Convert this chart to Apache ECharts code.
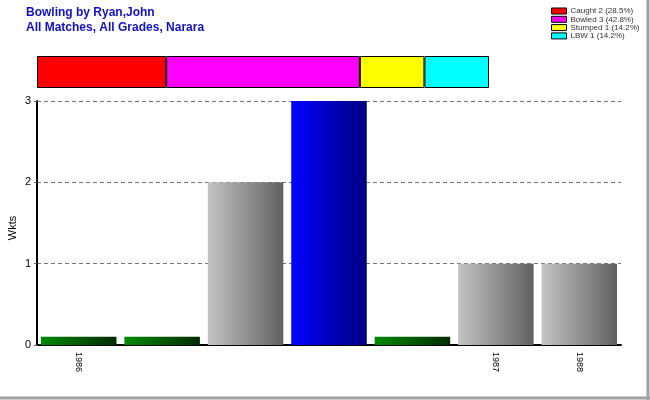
<!DOCTYPE html>
<html><head><meta charset="utf-8">
<script src="https://cdn.jsdelivr.net/npm/echarts@6/dist/echarts.min.js"></script>
<style>html,body{margin:0;padding:0;background:#fff}#c{width:650px;height:400px}</style>
</head><body><div id="c"></div>
<script>
var categories = ['1986', '', '', '', '', '1987', '1988'];
var wickets = [0.1, 0.1, 2, 3, 0.1, 1, 1];
var barKind = ['green', 'green', 'grey', 'blue', 'green', 'grey', 'grey'];
var dismissalNames = ['Caught 2 (28.5%)', 'Bowled 3 (42.8%)', 'Stumped 1 (14.2%)', 'LBW 1 (14.2%)'];
var dismissalCounts = [2, 3, 1, 1];
var dismissalColors = ['#ff0000', '#ff00ff', '#ffff00', '#00ffff'];
var yTicks = [0, 1, 2, 3];
var yAxisTitle = 'Wkts';

var grads = {
  green: ['#008a00', '#002a00'],
  grey: ['#c4c4c4', '#606060'],
  blue: ['#0000ff', '#000080']
};
function grad(k) {
  var g = grads[k];
  return new echarts.graphic.LinearGradient(0, 0, 1, 0, [{offset: 0, color: g[0]}, {offset: 1, color: g[1]}]);
}

var chart = echarts.init(document.getElementById('c'));
var series = [{
  type: 'bar', xAxisIndex: 0, yAxisIndex: 0,
  barCategoryGap: '9.5%',
  data: wickets.map(function (v, i) { return {value: v, itemStyle: {color: grad(barKind[i])}}; }),
  silent: true
}];
dismissalNames.forEach(function (n, i) {
  series.push({
    type: 'bar', name: n, stack: 'd', xAxisIndex: 1, yAxisIndex: 1,
    barWidth: '100%',
    data: [dismissalCounts[i]],
    itemStyle: {color: dismissalColors[i], borderColor: '#000', borderWidth: 1},
    silent: true
  });
});

chart.setOption({
  animation: false,
  backgroundColor: '#fff',
  title: {
    text: 'Bowling by Ryan,John\nAll Matches, All Grades, Narara',
    left: 26, top: 5, padding: 0,
    textStyle: {color: '#1010c8', fontSize: 12, fontWeight: 'bold', fontFamily: 'Liberation Sans, Arial', lineHeight: 15}
  },
  legend: {
    orient: 'vertical', left: 551, top: 7, padding: 0, itemWidth: 15, itemHeight: 6, itemGap: 0.3, icon: 'rect',
    textStyle: {fontSize: 8, lineHeight: 8, fontFamily: 'Liberation Sans, Arial', color: '#333', padding: [0, 0, 0, -1]},
    data: dismissalNames.map(function (n, i) { return {name: n, itemStyle: {color: dismissalColors[i], borderColor: '#000', borderWidth: 1}}; })
  },
  grid: [
    {left: 37, right: 29, top: 101, bottom: 55, outerBoundsMode: 'none', containLabel: false},
    {left: 37, width: 452, top: 56, height: 32, outerBoundsMode: 'none', containLabel: false}
  ],
  xAxis: [{
    type: 'category', gridIndex: 0, data: categories,
    axisLine: {lineStyle: {color: '#000', width: 2}},
    axisTick: {alignWithLabel: true, length: 4, lineStyle: {color: '#000'}},
    axisLabel: {rotate: -90, fontSize: 9, fontFamily: 'Liberation Sans, Arial', color: '#000', margin: 7, interval: 0}
  }, {
    type: 'value', gridIndex: 1, min: 0, max: 7, show: false
  }],
  yAxis: [{
    type: 'value', gridIndex: 0, min: 0, max: 3, interval: 1,
    axisLine: {show: true, lineStyle: {color: '#000', width: 2}},
    axisTick: {show: true, length: 3, lineStyle: {color: '#666'}},
    axisLabel: {fontSize: 11, fontFamily: 'Liberation Sans, Arial', color: '#000', margin: 6,
      formatter: function (v) { return yTicks.indexOf(v) >= 0 ? String(v) : ''; }},
    splitLine: {show: true, lineStyle: {color: '#777', type: [4, 3], width: 1}}
  }, {
    type: 'category', gridIndex: 1, data: ['d'], show: false
  }],
  graphic: [{
    type: 'text', x: 13, y: 228, rotation: Math.PI / 2, silent: true,
    style: {text: yAxisTitle, fontSize: 11, fontFamily: 'Liberation Sans, Arial', fill: '#000', align: 'center', verticalAlign: 'middle'}
  }, {
    type: 'line', shape: {x1: 648, y1: 0, x2: 648, y2: 400}, silent: true,
    style: {stroke: '#a0a0a0', lineWidth: 3}
  }, {
    type: 'line', shape: {x1: 0, y1: 398, x2: 650, y2: 398}, silent: true,
    style: {stroke: '#a0a0a0', lineWidth: 3}
  }],
  series: series
});
</script></body></html>
